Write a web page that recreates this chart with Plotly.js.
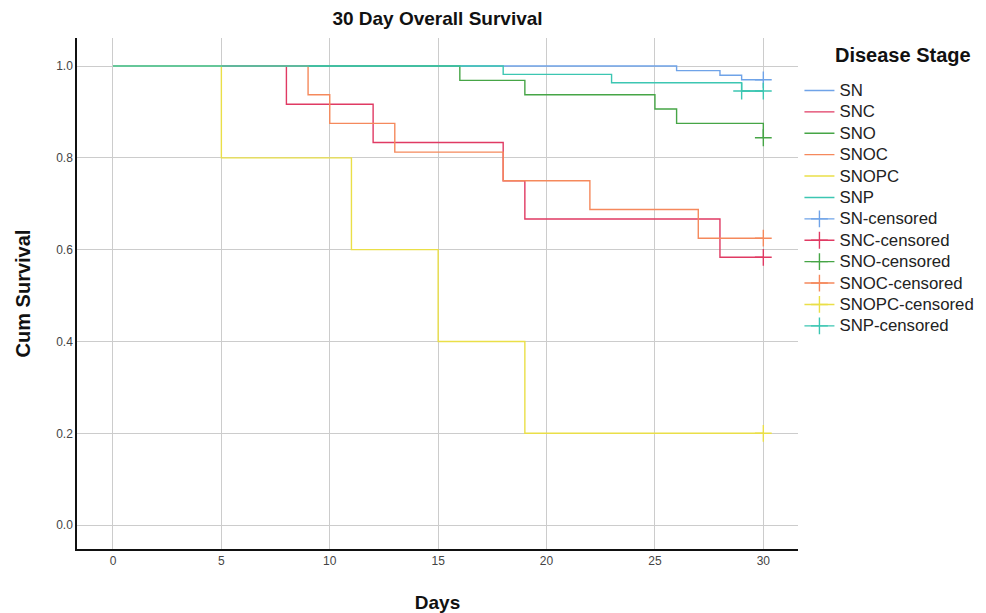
<!DOCTYPE html>
<html>
<head>
<meta charset="utf-8">
<script src="https://cdn.plot.ly/plotly-3.0.1.min.js"></script>
<style>html,body{margin:0;padding:0;background:#fff;}#chart{width:986px;height:613px;}</style>
</head>
<body>
<div id="chart"></div>
<script>
// Group names and colours
const groups = ["SN", "SNC", "SNO", "SNOC", "SNOPC", "SNP"];
const colors = ["#6fa3e8", "#e03a63", "#46a546", "#f5895c", "#eadf48", "#3cc6b2"];
const legendTitle = "Disease Stage";

// Step survival curves (time, cumulative survival)
const snTime = [0, 26, 28, 29, 30];
const snSurv = [1.0, 0.99, 0.98, 0.97, 0.97];
const sncTime = [0, 8, 12, 18, 19, 28, 30];
const sncSurv = [1.0, 0.9167, 0.8333, 0.75, 0.6667, 0.5833, 0.5833];
const snoTime = [0, 16, 19, 25, 26, 30];
const snoSurv = [1.0, 0.96875, 0.9375, 0.90625, 0.875, 0.84375];
const snocTime = [0, 9, 10, 13, 18, 22, 27, 30];
const snocSurv = [1.0, 0.9375, 0.875, 0.8125, 0.75, 0.6875, 0.625, 0.625];
const snopcTime = [0, 5, 11, 15, 19, 30];
const snopcSurv = [1.0, 0.8, 0.6, 0.4, 0.2, 0.2];
const snpTime = [0, 18, 23, 29, 30];
const snpSurv = [1.0, 0.9818, 0.9636, 0.9455, 0.9455];

// Censored observations
const snCensT = [30], snCensS = [0.97];
const sncCensT = [30], sncCensS = [0.5833];
const snoCensT = [30], snoCensS = [0.84375];
const snocCensT = [30], snocCensS = [0.625];
const snopcCensT = [30], snopcCensS = [0.2];
const snpCensT = [29, 30], snpCensS = [0.9455, 0.9455];

const xTicks = [0, 5, 10, 15, 20, 25, 30];
const yTicks = [0.0, 0.2, 0.4, 0.6, 0.8, 1.0];

const curves = [[snTime, snSurv], [sncTime, sncSurv], [snoTime, snoSurv],
                [snocTime, snocSurv], [snopcTime, snopcSurv], [snpTime, snpSurv]];
const cens = [[snCensT, snCensS], [sncCensT, sncCensS], [snoCensT, snoCensS],
              [snocCensT, snocCensS], [snopcCensT, snopcCensS], [snpCensT, snpCensS]];

const lbl = s => '<span style="font-size:16.8px">' + s + '</span>';

const traces = [];
curves.forEach((c, i) => {
  traces.push({
    x: c[0], y: c[1], type: "scatter", mode: "lines", name: lbl(groups[i]),
    line: {shape: "hv", color: colors[i], width: 1.4},
    hovertemplate: groups[i] + ": %{x}, %{y:.3f}<extra></extra>"
  });
});
cens.forEach((c, i) => {
  traces.push({
    x: c[0], y: c[1], type: "scatter", mode: "lines+markers", name: lbl(groups[i] + "-censored"),
    line: {color: colors[i], width: 1.4},
    marker: {symbol: "cross-thin", size: 12, line: {color: colors[i], width: 1.4}, color: colors[i]},
    hovertemplate: groups[i] + "-censored: %{x}, %{y:.3f}<extra></extra>"
  });
});

const layout = {
  width: 986, height: 613,
  margin: {l: 77, r: 188, t: 38, b: 64, autoexpand: false},
  paper_bgcolor: "#ffffff", plot_bgcolor: "#ffffff",
  font: {family: "Liberation Sans, Arial, sans-serif", color: "#222"},
  title: {text: "<b>30 Day Overall Survival</b>", x: 0.5, xref: "paper", xanchor: "center",
          y: 0.981, yanchor: "top", font: {size: 19, color: "#111"}},
  xaxis: {
    range: [-1.66, 31.6], tickvals: xTicks, ticktext: xTicks.map(String),
    showgrid: true, gridcolor: "#cccccc", gridwidth: 1, zeroline: false,
    showline: true, linecolor: "#111", linewidth: 1.5, ticks: "", ticklen: 0,
    tickfont: {size: 12, color: "#444"},
    title: {text: "<b>Days</b>", font: {size: 19, color: "#111"}, standoff: 30}
  },
  yaxis: {
    range: [-0.052, 1.061], tickvals: yTicks, ticktext: yTicks.map(v => v.toFixed(1)),
    showgrid: true, gridcolor: "#cccccc", gridwidth: 1, zeroline: false,
    showline: true, linecolor: "#111", linewidth: 1.5, ticks: "", ticklen: 0,
    tickfont: {size: 12, color: "#444"},
    title: {text: "<b>Cum Survival</b>", font: {size: 20, color: "#111"}, standoff: 20}
  },
  legend: {
    x: 1.002, xanchor: "left", y: 0.928, yanchor: "top",
    font: {size: 14.15, color: "#222", family: "Liberation Sans, Arial, sans-serif"},
    itemwidth: 30, tracegroupgap: 0, bgcolor: "rgba(0,0,0,0)"
  },
  annotations: [{
    text: "<b>" + legendTitle + "</b>", xref: "paper", yref: "paper",
    x: 1.146, y: 0.967, xanchor: "center", yanchor: "middle", showarrow: false,
    font: {size: 20, color: "#111"}
  }],
  showlegend: true
};

Plotly.newPlot("chart", traces, layout, {displayModeBar: false, responsive: false});
</script>
</body>
</html>
